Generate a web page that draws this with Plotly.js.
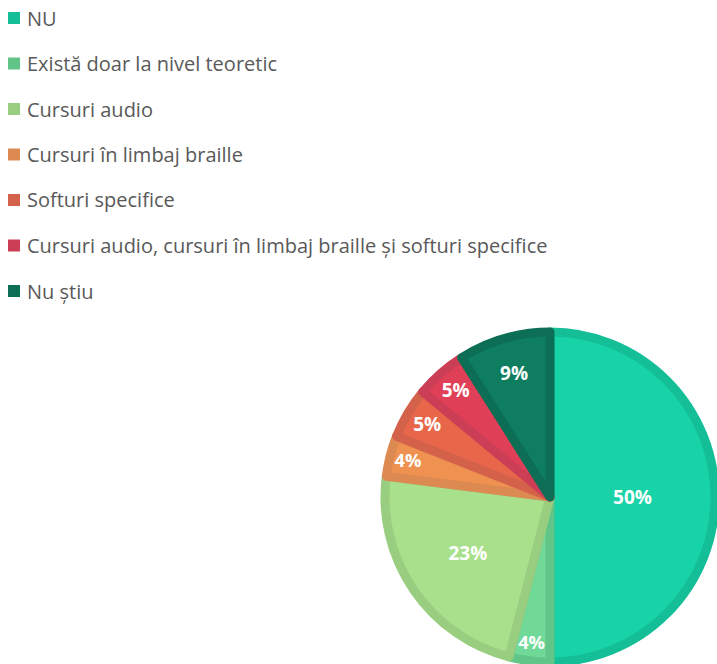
<!DOCTYPE html>
<html>
<head>
<meta charset="utf-8">
<script src="https://cdn.plot.ly/plotly-3.0.1.min.js"></script>
<style>html,body{margin:0;padding:0;background:#fff;}#chart{width:717px;height:664px;}</style>
</head>
<body>
<div id="chart"></div>
<script>
const categories = ["NU", "Există doar la nivel teoretic", "Cursuri audio", "Cursuri în limbaj braille", "Softuri specifice", "Cursuri audio, cursuri în limbaj braille și softuri specifice", "Nu știu"];
const values = [50, 4, 23, 4, 5, 5, 9];
const fillColors = ["#18d3a8", "#70d998", "#a8e08c", "#ef9150", "#e8674b", "#df4058", "#0e7d60"];
const borderColors = ["#14bf98", "#62c588", "#99cd80", "#dc8a52", "#d4624b", "#cb3e55", "#0b6e55"];

const W = 717, H = 664;
const cx = 550, cy = 497, r = 165;

const trace = {
  type: "pie",
  labels: categories,
  values: values,
  sort: false,
  direction: "clockwise",
  rotation: 0,
  marker: { colors: fillColors, line: { color: borderColors, width: 9 } },
  texttemplate: "%{value}%",
  textposition: "inside",
  insidetextorientation: "horizontal",
  textfont: { family: "Open Sans, sans-serif", size: 19, color: "#ffffff", weight: "bold" },
  hoverinfo: "label+percent",
  showlegend: false,
  domain: { x: [(cx - r) / W, Math.min(1, (cx + r) / W)], y: [Math.max(0, (H - cy - r) / H), (H - cy + r) / H] }
};

const shapes = [], annotations = [];
const legendY0 = 18, legendStep = 45.5;
categories.forEach((c, i) => {
  const yc = legendY0 + i * legendStep;
  shapes.push({ type: "rect", xref: "paper", yref: "paper",
    x0: 8 / W, x1: 20 / W, y0: 1 - (yc + 6) / H, y1: 1 - (yc - 6) / H,
    fillcolor: borderColors[i], line: { width: 0 } });
  annotations.push({ xref: "paper", yref: "paper", x: 25 / W, y: 1 - yc / H,
    xanchor: "left", yanchor: "middle", showarrow: false, text: c,
    font: { family: "Open Sans, sans-serif", size: 20, color: "#595959" } });
});

Plotly.newPlot("chart", [trace], {
  width: W, height: H,
  margin: { l: 0, r: 0, t: 0, b: 0 },
  paper_bgcolor: "#ffffff",
  shapes: shapes,
  annotations: annotations,
  showlegend: false
}, { displayModeBar: false, staticPlot: true });
</script>
</body>
</html>
